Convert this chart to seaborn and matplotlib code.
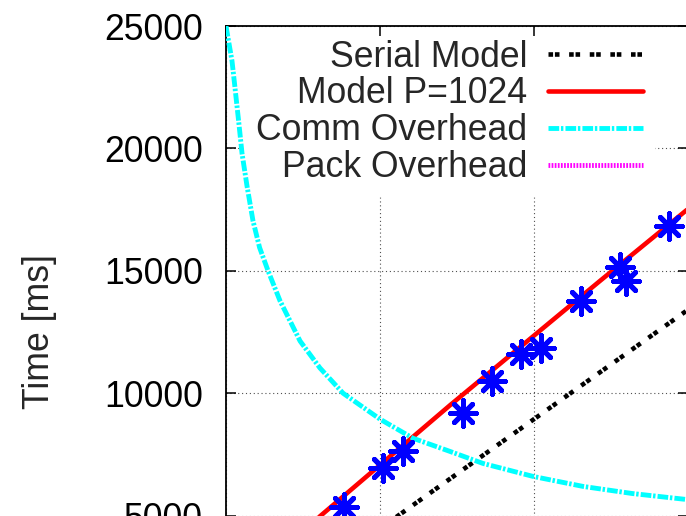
import numpy as np
import pandas as pd
import seaborn as sns
import matplotlib.pyplot as plt

# values (x in grid units, time in ms)
serial_x = [0.0, 1.0, 2.0, 3.0]
serial_t = [0, 4470, 8940, 13410]

model_x = [0.5, 0.623, 1.455, 2.429, 2.987, 3.0]
model_t = [4380, 5040, 9510, 14590, 17460, 17520]

comm_x = [0.0, 0.039, 0.058, 0.084, 0.104, 0.136, 0.175, 0.218, 0.273, 0.351,
          0.481, 0.610, 0.760, 1.0, 1.214, 1.455, 1.669, 1.994, 2.320, 2.640,
          2.987, 3.0]
comm_t = [25000, 23570, 22500, 21000, 19800, 18480, 17050, 15950, 15000, 13770,
          12130, 11030, 10000, 8940, 8160, 7620, 7130, 6600, 6190, 5900,
          5660, 5650]

pack_x = [0.0, 1.0, 2.0, 3.0]
pack_t = [300, 550, 800, 1050]

meas_x = [0.766, 1.019, 1.149, 1.539, 1.727, 1.916, 2.045, 2.305, 2.558, 2.597, 2.877]
meas_t = [5370, 6930, 7620, 9180, 10490, 11600, 11840, 13770, 15160, 14590, 16840]

sns.set_style('ticks')
plt.rcParams['font.family'] = ['Liberation Sans', 'DejaVu Sans']
fs = 25.7

fig = plt.figure(figsize=(6.86, 5.16), dpi=100)
# the reference only shows the upper-left part of the plot
ax = fig.add_axes([226/686, -0.2364, 462/686, 1.186])

sns.lineplot(x=serial_x, y=serial_t, ax=ax, color='black', lw=3.3,
             linestyle=(0, (1, 0.4, 1, 2.1)), label='Serial Model', zorder=3)
sns.lineplot(x=model_x, y=model_t, ax=ax, color='red', lw=3.3,
             label='Model P=1024', zorder=3)
sns.lineplot(x=comm_x, y=comm_t, ax=ax, color='cyan', lw=3.5,
             linestyle=(0, (2.2, 0.36, 0.5, 0.43)), label='Comm Overhead', zorder=3)
sns.lineplot(x=pack_x, y=pack_t, ax=ax, color='magenta', lw=3.5,
             linestyle=(0, (0.36, 0.28)), label='Pack Overhead', zorder=3)
sns.scatterplot(x=meas_x, y=meas_t, ax=ax, color='blue', marker=(8, 2, 0),
                s=340, linewidth=3.6, zorder=4)

ax.set_xlim(0, 3)
ax.set_ylim(0, 25000)
ax.set_yticks([0, 5000, 10000, 15000, 20000, 25000])
ax.set_xticks([0, 1, 2, 3])

# dotted grid drawn under the key
for v in ax.get_yticks():
    ax.axhline(v, color='#505050', lw=0.8, linestyle=(0, (1, 2.5)), zorder=0.8)
for v in ax.get_xticks():
    ax.axvline(v, color='#505050', lw=0.8, linestyle=(0, (1, 2.5)), zorder=0.8)

ax.tick_params(direction='in', length=7, width=1.1, top=True, right=True,
               labelsize=fs, pad=16.5, colors='black', labelbottom=False)
ax.set_axisbelow(False)
for sp in ax.spines.values():
    sp.set_linewidth(1.3)
    sp.set_color('black')

ax.set_ylabel('Time [ms]', fontsize=fs)
ax.yaxis.set_label_coords(-0.366, 0.5)
ax.set_xlabel('')

leg = ax.legend(loc='upper right', bbox_to_anchor=(654/686, 1 - 29/516),
                bbox_transform=fig.transFigure, markerfirst=False,
                fontsize=fs, handlelength=2.66, handletextpad=0.59,
                labelspacing=0.05, borderpad=0.3, borderaxespad=0,
                fancybox=False, framealpha=1, facecolor='white',
                edgecolor='white')
leg.set_zorder(1.5)

fig.savefig('out.png', dpi=100)
